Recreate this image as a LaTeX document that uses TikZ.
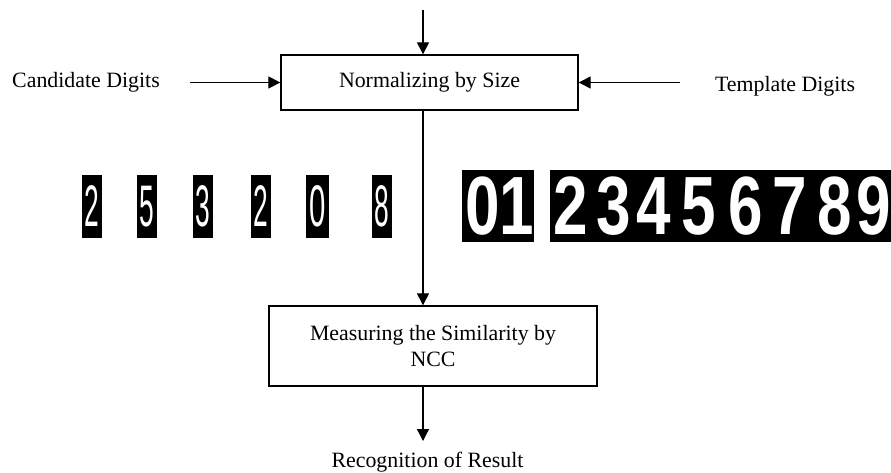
\documentclass[tikz,border=0pt]{standalone}
\usepackage{fontspec}
\setmainfont{Liberation Serif}
\setsansfont{Liberation Sans}
\usetikzlibrary{arrows.meta}

\tikzset{
  procbox/.style={draw, line width=1pt, inner sep=0pt, align=center},
  label text/.style={inner sep=0pt},
  flow/.style={line width=0.9pt, -{Triangle[length=9pt,width=9pt]}},
  candcell/.style={fill=black, text=white, inner sep=0pt, minimum width=15pt, minimum height=47pt,
    font=\sffamily\fontsize{44}{44}\selectfont},
  tmplcell/.style={fill=black, text=white, inner sep=0pt, minimum height=54pt,
    font=\sffamily\bfseries\fontsize{62}{62}\selectfont}
}

\begin{document}
\begin{tikzpicture}[x=0.75pt, y=-0.75pt, font=\fontsize{16.4}{20}\selectfont]
            \useasboundingbox (0,0) rectangle (891,473);

            % Boxes
            \node (norm) at (429.5,82.5) [procbox, minimum width=222.75pt, minimum height=41.25pt] {Normalizing by Size};
            \node (meas) at (433,346) [procbox, minimum width=246pt, minimum height=60pt] {Measuring the Similarity by\\NCC};

            % Side texts
            \node (cand) at (86,82) [label text] {Candidate Digits};
            \node (tmpl) at (785,86) [label text] {Template Digits};
            \node (res) at (427.5,462) [label text] {Recognition of Result};
            \coordinate (in) at (423,10);

            % Candidate digits
            \node (c1) at (92,206.5) [candcell] {\scalebox{0.45}[1]{2}};
            \node (c2) at (147,206.5) [candcell] {\scalebox{0.45}[1]{5}};
            \node (c3) at (203,206.5) [candcell] {\scalebox{0.45}[1]{3}};
            \node (c4) at (261,206.5) [candcell] {\scalebox{0.45}[1]{2}};
            \node (c5) at (317.5,206.5) [candcell, minimum width=17pt] {\scalebox{0.5}[1]{0}};
            \node (c6) at (382,206.5) [candcell] {\scalebox{0.45}[1]{8}};

            % Template digits
            \foreach \d/\xa/\xb in {0/462/503, 1/503/530, 2/550/592, 3/592/635, 4/635/673,
                                    5/673/725, 6/725/767, 7/767/813, 8/813/857, 9/857/891} {
              \node (t\d) at ({(\xa+\xb)/2},206) [tmplcell, minimum width={(\xb-\xa)*0.75pt}] {\scalebox{0.75}[1]{\d}};
            }

            % Arrows
            \draw[flow] (in) -- (norm.north -| in);
            \draw[flow, shorten <=22.5pt] (cand.east |- norm.west) -- (norm.west);
            \draw[flow, shorten <=26pt] (tmpl.west |- norm.east) -- (norm.east);
            \draw[flow] (norm.south -| in) -- (meas.north -| in);
            \draw[flow, shorten >=8pt] (meas.south -| in) -- (res.north -| in);
        \end{tikzpicture}
\end{document}
